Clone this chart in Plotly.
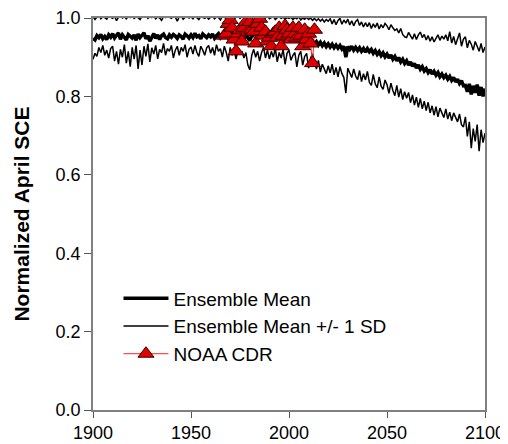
import plotly.graph_objects as go

years = list(range(1900, 2101))

ens_mean = [
    0.948, 0.944, 0.955, 0.950, 0.958, 0.947, 0.953, 0.945, 0.957, 0.951,
    0.960, 0.949, 0.956, 0.962, 0.946, 0.957, 0.951, 0.944, 0.958, 0.952,
    0.949, 0.957, 0.943, 0.959, 0.950, 0.956, 0.962, 0.947, 0.955, 0.941,
    0.953, 0.960, 0.948, 0.957, 0.945, 0.955, 0.959, 0.950, 0.947, 0.957,
    0.951, 0.958, 0.954, 0.948, 0.957, 0.953, 0.946, 0.959, 0.955, 0.949,
    0.957, 0.950, 0.961, 0.952, 0.955, 0.947, 0.959, 0.954, 0.950, 0.957,
    0.952, 0.959, 0.948, 0.955, 0.960, 0.950, 0.957, 0.953, 0.959, 0.949,
    0.955, 0.960, 0.950, 0.957, 0.948, 0.959, 0.953, 0.946, 0.957, 0.951,
    0.942, 0.955, 0.959, 0.949, 0.957, 0.952, 0.960, 0.950, 0.955, 0.947,
    0.957, 0.952, 0.959, 0.950, 0.955, 0.960, 0.948, 0.957, 0.953, 0.950,
    0.955, 0.948, 0.954, 0.945, 0.951, 0.943, 0.949, 0.941, 0.947, 0.939,
    0.945, 0.936, 0.942, 0.934, 0.940, 0.931, 0.938, 0.929, 0.936, 0.927,
    0.934, 0.926, 0.933, 0.924, 0.931, 0.923, 0.930, 0.921, 0.928, 0.900,
    0.927, 0.920, 0.928, 0.918, 0.925, 0.917, 0.924, 0.915, 0.922, 0.913,
    0.922, 0.914, 0.920, 0.910, 0.917, 0.907, 0.914, 0.904, 0.911, 0.901,
    0.908, 0.898, 0.906, 0.895, 0.902, 0.891, 0.899, 0.888, 0.895, 0.884,
    0.891, 0.880, 0.888, 0.877, 0.884, 0.872, 0.880, 0.869, 0.876, 0.865,
    0.871, 0.861, 0.868, 0.857, 0.864, 0.854, 0.861, 0.850, 0.857, 0.848,
    0.854, 0.844, 0.851, 0.841, 0.848, 0.837, 0.844, 0.833, 0.840, 0.827,
    0.828, 0.812, 0.832, 0.805, 0.827, 0.809, 0.830, 0.802, 0.824, 0.800,
    0.820,
]

ens_upper = [
    1.004, 0.996, 1.002, 1.006, 0.998, 1.003, 1.001, 0.997, 1.005, 1.002,
    0.999, 1.004, 0.993, 1.002, 1.006, 1.000, 1.003, 0.998, 1.004, 1.001,
    1.005, 0.999, 1.003, 1.001, 0.996, 1.004, 1.002, 1.006, 0.999, 1.003,
    1.001, 1.005, 0.998, 1.003, 1.000, 0.994, 1.004, 1.001, 1.006, 1.002,
    0.999, 1.004, 1.002, 0.992, 1.003, 1.005, 0.997, 1.002, 1.004, 1.000,
    1.003, 0.998, 1.005, 1.001, 0.996, 1.004, 1.002, 0.999, 1.003, 0.997,
    1.002, 1.004, 0.998, 1.003, 1.001, 0.995, 1.004, 1.002, 0.999, 1.003,
    1.001, 1.004, 0.997, 1.002, 1.005, 0.999, 1.003, 1.001, 0.996, 1.004,
    0.992, 1.003, 1.001, 0.998, 1.004, 1.002, 0.997, 1.003, 1.000, 1.005,
    0.998, 1.002, 1.004, 0.996, 1.001, 1.003, 0.999, 1.002, 0.997, 1.001,
    0.999, 1.002, 0.996, 1.001, 0.998, 1.003, 0.995, 1.000, 0.997, 1.002,
    0.996, 1.000, 0.994, 0.999, 0.993, 0.998, 0.992, 0.997, 0.990, 0.996,
    0.992, 0.998, 0.985, 0.996, 0.983, 0.994, 0.999, 0.984, 0.995, 0.987,
    0.997, 0.982, 0.993, 0.980, 0.991, 0.996, 0.981, 0.990, 0.977, 0.988,
    0.978, 0.988, 0.973, 0.985, 0.976, 0.987, 0.972, 0.983, 0.975, 0.986,
    0.980, 0.970, 0.983, 0.975, 0.968, 0.972, 0.962, 0.973, 0.958, 0.952,
    0.950, 0.963, 0.954, 0.946, 0.960, 0.945, 0.957, 0.964, 0.950, 0.958,
    0.944, 0.955, 0.941, 0.952, 0.939, 0.950, 0.957, 0.943, 0.954, 0.946,
    0.957, 0.942, 0.965, 0.936, 0.953, 0.932, 0.950, 0.962, 0.928, 0.946,
    0.952, 0.924, 0.943, 0.933, 0.918, 0.940, 0.928, 0.915, 0.935, 0.912,
    0.926,
]

ens_lower = [
    0.895, 0.910, 0.902, 0.925, 0.912, 0.930, 0.905, 0.918, 0.898, 0.922,
    0.928, 0.890, 0.915, 0.882, 0.920, 0.900, 0.932, 0.885, 0.915, 0.876,
    0.925, 0.895, 0.930, 0.870, 0.918, 0.880, 0.928, 0.902, 0.934, 0.888,
    0.924, 0.908, 0.930, 0.896, 0.920, 0.912, 0.935, 0.905, 0.922, 0.915,
    0.930, 0.898, 0.918, 0.928, 0.905, 0.925, 0.915, 0.932, 0.900, 0.920,
    0.926, 0.908, 0.930, 0.912, 0.902, 0.928, 0.918, 0.905, 0.924, 0.930,
    0.910, 0.925, 0.905, 0.932, 0.915, 0.922, 0.900, 0.928, 0.912, 0.890,
    0.925, 0.905, 0.918, 0.895, 0.922, 0.908, 0.915, 0.898, 0.912, 0.880,
    0.868, 0.905, 0.920, 0.900, 0.915, 0.890, 0.912, 0.925, 0.898, 0.918,
    0.895, 0.915, 0.900, 0.922, 0.888, 0.912, 0.898, 0.920, 0.882, 0.910,
    0.918, 0.892, 0.905, 0.912, 0.875, 0.905, 0.915, 0.880, 0.902, 0.910,
    0.872, 0.898, 0.908, 0.885, 0.870, 0.892, 0.862, 0.882, 0.868, 0.858,
    0.878, 0.860, 0.882, 0.855, 0.874, 0.850, 0.876, 0.858, 0.848, 0.808,
    0.872, 0.858, 0.848, 0.870, 0.852, 0.843, 0.866, 0.838, 0.858, 0.842,
    0.864, 0.836, 0.828, 0.856, 0.832, 0.822, 0.850, 0.826, 0.818, 0.842,
    0.830, 0.808, 0.834, 0.815, 0.802, 0.828, 0.798, 0.820, 0.792, 0.812,
    0.795, 0.810, 0.784, 0.804, 0.778, 0.798, 0.772, 0.795, 0.768, 0.788,
    0.764, 0.785, 0.758, 0.776, 0.752, 0.774, 0.748, 0.770, 0.760, 0.746,
    0.768, 0.742, 0.760, 0.738, 0.758, 0.748, 0.735, 0.755, 0.728, 0.722,
    0.748, 0.698, 0.735, 0.668, 0.718, 0.685, 0.728, 0.660, 0.715, 0.682,
    0.706,
]

noaa_years = list(range(1967, 2014))
noaa_sce = [
    0.955, 0.960, 0.985, 0.995, 0.975, 0.945, 0.915, 0.960, 0.970, 0.940,
    0.975, 0.990, 0.965, 0.990, 0.970, 0.965, 0.935, 0.985, 0.998, 0.975,
    0.955, 0.965, 0.940, 0.950, 0.928, 0.960, 0.965, 0.950, 0.975, 0.928,
    0.955, 0.980, 0.970, 0.960, 0.945, 0.975, 0.960, 0.950, 0.975, 0.955,
    0.928, 0.970, 0.945, 0.960, 0.935, 0.885, 0.970,
]

x_ticks = [1900, 1950, 2000, 2050, 2100]
y_ticks = [0.0, 0.2, 0.4, 0.6, 0.8, 1.0]
y_tick_labels = ["0.0", "0.2", "0.4", "0.6", "0.8", "1.0"]

FONT = "Arial, Liberation Sans, sans-serif"

fig = go.Figure()
fig.add_trace(go.Scatter(
    x=years, y=ens_mean, mode="lines", name="Ensemble Mean",
    line=dict(color="black", width=3.5),
))
fig.add_trace(go.Scatter(
    x=years, y=ens_upper, mode="lines", name="Ensemble Mean +/- 1 SD",
    line=dict(color="black", width=1.5), legendgroup="sd",
))
fig.add_trace(go.Scatter(
    x=years, y=ens_lower, mode="lines", name="Ensemble Mean +/- 1 SD",
    line=dict(color="black", width=1.5), legendgroup="sd", showlegend=False,
))
fig.add_trace(go.Scatter(
    x=noaa_years, y=noaa_sce, mode="lines+markers", name="NOAA CDR",
    line=dict(color="#ff2020", width=1),
    marker=dict(symbol="triangle-up", size=14, color="#e00000",
                line=dict(color="#3a0000", width=1)),
))

# The page body has an 8px margin, so the figure is sized and offset to fit.
fig.update_layout(
    width=500, height=436,
    margin=dict(l=85, r=23, t=10, b=34),
    paper_bgcolor="white", plot_bgcolor="white",
    font=dict(family=FONT, size=18, color="black"),
    showlegend=True,
    legend=dict(
        x=0.065, y=0.333, xanchor="left", yanchor="top",
        bgcolor="rgba(0,0,0,0)", font=dict(size=19, family=FONT, color="black"),
        tracegroupgap=0, itemwidth=45,
    ),
)
fig.update_xaxes(
    range=[1900, 2100], tickvals=x_ticks, ticks="outside", ticklen=6,
    tickcolor="#555555", showline=True, linecolor="#808080", linewidth=1.5,
    mirror=True, showgrid=False, zeroline=False, automargin=False,
    ticklabeloverflow="allow",
    tickfont=dict(size=18, family=FONT),
)
fig.update_yaxes(
    range=[0, 1.0], tickvals=y_ticks, ticktext=y_tick_labels, ticks="outside",
    ticklen=7, tickcolor="#555555", showline=True, linecolor="#808080",
    linewidth=1.5, mirror=True, showgrid=False, zeroline=False, automargin=False,
    ticklabeloverflow="allow",
    tickfont=dict(size=18, family=FONT),
    title=dict(text="<b>Normalized April SCE</b>", font=dict(size=21, family=FONT),
               standoff=20),
)

fig.write_html("out.html")
